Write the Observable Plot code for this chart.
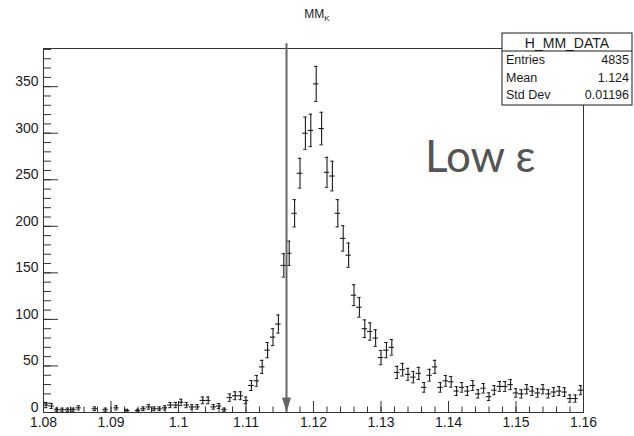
<!DOCTYPE html>
<html>
<head>
<meta charset="utf-8">
<script src="https://cdn.jsdelivr.net/npm/d3@7"></script>
<script src="https://cdn.jsdelivr.net/npm/@observablehq/plot@0.6"></script>
<style>
  html, body { margin: 0; padding: 0; background: white; }
</style>
</head>
<body>
<div id="chart"></div>
<script>
// ---- data ----
const xMin = 1.08;
const xMax = 1.16;
const binWidth = 0.0008;
const counts = [
  8, 7, 3, 3, 3, 3, 5, 0, 0, 4,
  0, 3, 0, 5, 0, 2, 0, 2, 4, 6,
  4, 4, 5, 8, 8, 11, 8, 6, 6, 13,
  13, 6, 7, 3, 16, 18, 18, 13, 29, 34,
  49, 67, 81, 95, 158, 171, 214, 257, 300, 303,
  353, 305, 258, 254, 214, 187, 169, 126, 113, 90,
  87, 80, 59, 67, 70, 43, 46, 41, 38, 42,
  27, 40, 49, 27, 34, 33, 23, 27, 23, 29,
  20, 26, 17, 24, 28, 28, 30, 21, 20, 25,
  23, 21, 25, 20, 22, 23, 22, 15, 15, 24
];
const xTicks = [1.08, 1.09, 1.10, 1.11, 1.12, 1.13, 1.14, 1.15, 1.16];
const yTicks = [0, 50, 100, 150, 200, 250, 300, 350];
const yMax = 391;
const cutValue = 1.116;
const cutTop = 396;
const statsName = "H_MM_DATA";
const statsLabels = ["Entries", "Mean", "Std Dev"];
const statsValues = ["4835", "1.124", "0.01196"];
const annotation = "Low \u03b5";

// ---- derived table ----
const pts = counts
  .map((v, i) => ({x: xMin + binWidth * (i + 0.5), v, e: Math.sqrt(v)}))
  .filter(d => d.v > 0);
const xMinor = d3.range(0, 41).map(i => +(xMin + i * 0.002).toFixed(4));
const yMinor = d3.range(0, yMax, 10);

const W = 634, H = 436;
const mL = 43, mR = 51, mT = 48, mB = 24;
const fw = W - mL - mR, fh = H - mT - mB;
const hw = binWidth / 2;
const cw = 0.00025;
const ink = "#1a1a1a";

const arrowHead = {
  draw(ctx) {
    ctx.moveTo(-4.5, -15);
    ctx.lineTo(4.5, -15);
    ctx.lineTo(0, 0);
    ctx.closePath();
  }
};

const svg = Plot.plot({
  width: W, height: H,
  marginLeft: mL, marginRight: mR, marginTop: mT, marginBottom: mB,
  x: {domain: [xMin, xMax]},
  y: {domain: [0, yMax]},
  style: {fontFamily: "Liberation Sans, Helvetica, Arial, sans-serif", background: "white", color: ink},
  marks: [
    Plot.frame({stroke: "#333", strokeWidth: 1}),
    Plot.tickX(xTicks, {x: d => d, insetTop: fh - 11, stroke: "#333"}),
    Plot.tickX(xMinor, {x: d => d, insetTop: fh - 5.5, stroke: "#333"}),
    Plot.tickY(yTicks, {y: d => d, insetRight: fw - 15, stroke: "#333"}),
    Plot.tickY(yMinor, {y: d => d, insetRight: fw - 8, stroke: "#333"}),
    Plot.axisX({ticks: xTicks, tickSize: 0, tickPadding: 5, fontSize: 14, label: null,
      tickFormat: d => String(+d.toFixed(2)), fill: ink}),
    Plot.axisY({ticks: yTicks, tickSize: 0, tickPadding: 5, fontSize: 14, label: null, dy: -5,
      tickFormat: d => String(d), fill: ink}),
    // error bars
    Plot.ruleX(pts, {x: "x", y1: d => d.v - d.e, y2: d => d.v + d.e, stroke: ink, strokeWidth: 1.1}),
    Plot.ruleY(pts, {y: "v", x1: d => d.x - hw, x2: d => d.x + hw, stroke: ink, strokeWidth: 1.1}),
    Plot.ruleY(pts, {y: d => d.v + d.e, x1: d => d.x - cw, x2: d => d.x + cw, stroke: ink, strokeWidth: 1}),
    Plot.ruleY(pts, {y: d => d.v - d.e, x1: d => d.x - cw, x2: d => d.x + cw, stroke: ink, strokeWidth: 1}),
    // cut arrow
    Plot.ruleX([cutValue], {x: d => d, y1: 0, y2: cutTop, stroke: "#666", strokeWidth: 2}),
    Plot.dot([cutValue], {x: d => d, y: () => 0, symbol: arrowHead, r: 5, fill: "#666", stroke: "none"})
  ]
});

document.getElementById("chart").appendChild(svg);

const s = d3.select(svg);
const font = "Liberation Sans, Helvetica, Arial, sans-serif";

// title
const t = s.append("text")
  .attr("x", 317).attr("y", 18)
  .attr("text-anchor", "middle")
  .attr("font-family", font).attr("font-size", 12).attr("fill", ink);
t.append("tspan").text("MM");
t.append("tspan").attr("font-size", 8).attr("dy", 3).text("K");

// stats box
const bx = 502, by = 33, bw = 130, bh = 72;
s.append("rect").attr("x", bx).attr("y", by).attr("width", bw).attr("height", bh)
  .attr("fill", "white").attr("stroke", ink).attr("stroke-width", 1);
s.append("line").attr("x1", bx).attr("x2", bx + bw).attr("y1", by + 18).attr("y2", by + 18)
  .attr("stroke", ink).attr("stroke-width", 1);
s.append("text").attr("x", bx + bw / 2).attr("y", by + 9.5)
  .attr("text-anchor", "middle").attr("dominant-baseline", "central")
  .attr("font-family", font).attr("font-size", 14).attr("fill", ink).text(statsName);
statsLabels.forEach((lab, i) => {
  const yy = by + 27 + i * 17.5;
  s.append("text").attr("x", bx + 4).attr("y", yy)
    .attr("text-anchor", "start").attr("dominant-baseline", "central")
    .attr("font-family", font).attr("font-size", 12.5).attr("fill", ink).text(lab);
  s.append("text").attr("x", bx + bw - 3).attr("y", yy)
    .attr("text-anchor", "end").attr("dominant-baseline", "central")
    .attr("font-family", font).attr("font-size", 12.5).attr("fill", ink).text(statsValues[i]);
});

// annotation
s.append("text").attr("x", 425).attr("y", 172)
  .attr("text-anchor", "start")
  .attr("font-family", "Lato, 'Open Sans', sans-serif").attr("font-size", 44)
  .attr("fill", "#555").text(annotation);
</script>
</body>
</html>
